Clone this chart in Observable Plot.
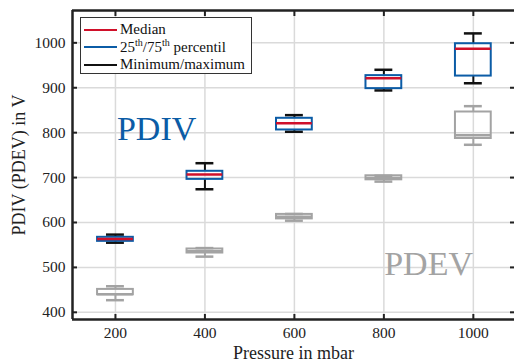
<!DOCTYPE html>
<html><head><meta charset="utf-8">
<script src="https://cdn.jsdelivr.net/npm/d3@7"></script>
<script src="https://cdn.jsdelivr.net/npm/@observablehq/plot@0.6"></script>
<style>
body{margin:0;background:#fff;}
#wrap{position:relative;width:514px;height:364px;font-family:"Liberation Serif","DejaVu Serif",serif;overflow:hidden;}
.legend{position:absolute;left:80px;top:17px;width:172px;height:57px;border:1.5px solid #333;background:#fff;padding:3px 0 0 3px;box-sizing:border-box;font-family:"Liberation Serif",serif;font-size:15px;color:#111;}
.row{height:17.5px;line-height:17.5px;white-space:nowrap;display:flex;align-items:center;font-family:"Liberation Serif",serif;}
.sw{display:inline-block;width:33px;height:0;border-top:2px solid;margin-right:3px;}
.sp{font-size:10px;position:relative;top:-5px;}
g[aria-label="x-axis label"] text, g[aria-label="y-axis label"] text{font-size:18px;}
</style></head><body><div id="wrap"></div>
<script>
const pressures = [200, 400, 600, 800, 1000];
const pdivMin = [555, 674, 802, 894, 910];
const pdivQ1  = [558, 696, 806, 898, 926];
const pdivMed = [563, 707, 821, 921, 987];
const pdivQ3  = [567, 714, 832, 927, 998];
const pdivMax = [573, 732, 839, 940, 1021];
const pdevMin = [427, 524, 604, 691, 773];
const pdevQ1  = [439, 532, 608, 695, 787];
const pdevMed = [440, 536, 613, 699, 794];
const pdevQ3  = [451, 541, 618, 704, 846];
const pdevMax = [458, 543, 619, 704, 859];
const xTicks = [200, 400, 600, 800, 1000];
const yTicks = [400, 500, 600, 700, 800, 900, 1000];
const annotations = [
  {text: "PDIV", x: 292, y: 807, color: "#0b5ca6"},
  {text: "PDEV", x: 900, y: 508, color: "#a3a3a3"}
];

const BLUE = "#0b5ca6", RED = "#d0102a", GRAY = "#a3a3a3", BLACK = "#111";
const boxHalf = 40, capHalf = 20;

function rowsOf(mn, q1, md, q3, mx) {
  return pressures.map((p, i) => ({p, min: mn[i], q1: q1[i], med: md[i], q3: q3[i], max: mx[i]}));
}
const pdiv = rowsOf(pdivMin, pdivQ1, pdivMed, pdivQ3, pdivMax);
const pdev = rowsOf(pdevMin, pdevQ1, pdevMed, pdevQ3, pdevMax);

function boxMarks(rows, boxColor, medColor, whiskColor) {
  return [
    Plot.ruleX(rows, {x: "p", y1: "q3", y2: "max", stroke: whiskColor, strokeWidth: 2}),
    Plot.ruleX(rows, {x: "p", y1: "q1", y2: "min", stroke: whiskColor, strokeWidth: 2}),
    Plot.ruleY(rows, {y: "max", x1: d => d.p - capHalf, x2: d => d.p + capHalf, stroke: whiskColor, strokeWidth: 2.5}),
    Plot.ruleY(rows, {y: "min", x1: d => d.p - capHalf, x2: d => d.p + capHalf, stroke: whiskColor, strokeWidth: 2.5}),
    Plot.rect(rows, {x1: d => d.p - boxHalf, x2: d => d.p + boxHalf, y1: "q1", y2: "q3", fill: "none", stroke: boxColor, strokeWidth: 2}),
    Plot.ruleY(rows, {y: "med", x1: d => d.p - boxHalf, x2: d => d.p + boxHalf, stroke: medColor, strokeWidth: 2.5})
  ];
}

const xDomain = [104, 1092], yDomain = [384, 1072];
const fmt = d => String(d);

const chart = Plot.plot({
  width: 514, height: 364,
  marginLeft: 72, marginRight: 0, marginTop: 10, marginBottom: 45,
  style: {fontFamily: "'Liberation Serif', 'DejaVu Serif', serif", fontSize: "15px", color: "#222", background: "#fff"},
  x: {domain: xDomain},
  y: {domain: yDomain},
  marks: [
    Plot.gridX(xTicks, {stroke: "#dadada", strokeOpacity: 1, strokeWidth: 1.5}),
    Plot.gridY(yTicks, {stroke: "#dadada", strokeOpacity: 1, strokeWidth: 1.5}),
    ...boxMarks(pdev, GRAY, GRAY, GRAY),
    ...boxMarks(pdiv, BLUE, RED, BLACK),
    Plot.text(annotations, {x: "x", y: "y", text: "text", fill: d => d.color, fontSize: 34, fontFamily: "'Liberation Serif', serif"}),
    Plot.axisX(xTicks, {anchor: "bottom", tickSize: -5, tickPadding: 12, strokeWidth: 2, fontSize: 15.5, tickFormat: fmt, label: "Pressure in mbar", labelArrow: "none", labelAnchor: "center", labelOffset: 39}),
    Plot.axisX(xTicks, {anchor: "top", tickSize: -5, strokeWidth: 2, tickFormat: () => "", label: null}),
    Plot.axisY(yTicks, {anchor: "left", tickSize: -5, tickPadding: 12, strokeWidth: 2, fontSize: 15.5, tickFormat: fmt, label: "PDIV (PDEV) in V", labelArrow: "none", labelAnchor: "center", labelOffset: 60}),
    Plot.axisY(yTicks, {anchor: "right", tickSize: -5, strokeWidth: 2, tickFormat: () => "", label: null}),
    Plot.ruleX([xDomain[0]], {stroke: "#222", strokeWidth: 2.5}),
    Plot.ruleY([yDomain[0]], {stroke: "#222", strokeWidth: 2.5}),
    Plot.ruleY([yDomain[1]], {stroke: "#222", strokeWidth: 2.5})
  ]
});
const wrap = document.getElementById("wrap");
wrap.appendChild(chart);

const legend = document.createElement("div");
legend.className = "legend";
legend.innerHTML =
  `<div class="row"><span class="sw" style="border-color:${RED}"></span>Median</div>` +
  `<div class="row"><span class="sw" style="border-color:${BLUE}"></span>25<span class="sp">th</span>/75<span class="sp">th</span>&nbsp;percentil</div>` +
  `<div class="row"><span class="sw" style="border-color:${BLACK}"></span>Minimum/maximum</div>`;
wrap.appendChild(legend);
</script>
</body></html>
